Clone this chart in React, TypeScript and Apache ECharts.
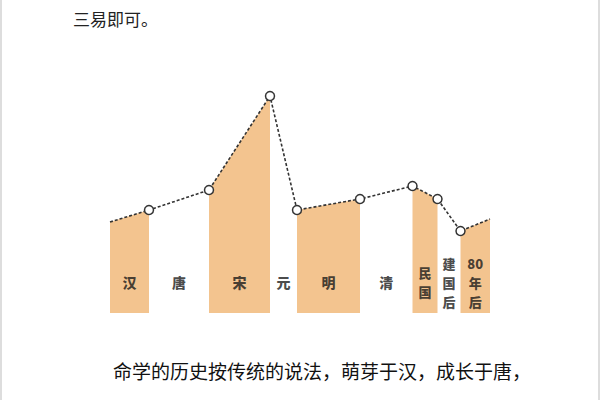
import React, { useEffect, useRef } from "react";
import * as echarts from "echarts";

// Era boundaries (x) and trend values (y) along the dashed line
const boundaryX = [0, 39, 99, 160, 187, 250, 302.5, 327.5, 350.5, 380];
const trendValues = [91, 103, 123, 217, 103, 114, 127, 114, 82, 94];
// Era names, one per segment between boundaries
const eras = ["汉", "唐", "宋", "元", "明", "清", "民国", "建国后", "80年后"];
// Which eras are drawn as filled blocks
const filledEras = [true, false, true, false, true, false, true, false, true];
const labelLines = ["汉", "唐", "宋", "元", "明", "清", "民\n国", "建\n国\n后", "80\n年\n后"];

const topText = "三易即可。";
const bodyText = "命学的历史按传统的说法，萌芽于汉，成长于唐，";

export default function App() {
  const ref = useRef<HTMLDivElement>(null);
  useEffect(() => {
    if (!ref.current) return;
    const chart = echarts.init(ref.current, null, { renderer: "svg" });
    const lineData = boundaryX.map((x, i) => ({
      value: [x, trendValues[i]],
      symbol: i === 0 || i === boundaryX.length - 1 ? "none" : "circle",
    }));
    const areaSeries: any[] = [];
    eras.forEach((e, i) => {
      if (!filledEras[i]) return;
      areaSeries.push({
        type: "line",
        data: [
          [boundaryX[i], trendValues[i]],
          [boundaryX[i + 1], trendValues[i + 1]],
        ],
        symbol: "none",
        lineStyle: { width: 0 },
        areaStyle: { color: "#F3C48F", opacity: 1, origin: "start" },
        silent: true,
        z: 1,
      });
    });
    const labelData = eras.map((e, i) => {
      const vertical = labelLines[i].includes("\n");
      return {
        name: e,
        value: [(boundaryX[i] + boundaryX[i + 1]) / 2, 31],
        label: {
          formatter: labelLines[i],
          fontSize: vertical ? 13 : 14,
          lineHeight: vertical ? 19 : 16,
        },
      };
    });
    chart.setOption({
      animation: false,
      backgroundColor: "#ffffff",
      grid: { left: 110, top: 0, width: 380, height: 313 },
      xAxis: { type: "value", min: 0, max: 380, show: false },
      yAxis: { type: "value", min: 0, max: 313, show: false },
      series: [
        ...areaSeries,
        {
          type: "line",
          data: lineData,
          symbolSize: 9,
          itemStyle: { color: "#ffffff", borderColor: "#333333", borderWidth: 1.5 },
          lineStyle: { color: "#333333", width: 1.6, type: [3, 2] },
          z: 3,
        },
        {
          type: "scatter",
          data: labelData,
          symbolSize: 0,
          z: 4,
          label: {
            show: true,
            position: "inside",
            color: "#1a1a1a",
            fontWeight: 900,
            fontFamily: "Noto Sans CJK SC",
          },
        },
      ],
      graphic: [
        {
          type: "text",
          left: 73,
          top: 10,
          style: { text: topText, fontSize: 17, fill: "#222", fontFamily: "Noto Sans CJK SC" },
        },
        {
          type: "text",
          left: 113,
          top: 361,
          style: { text: bodyText, fontSize: 19, fill: "#111", fontFamily: "Noto Sans CJK SC" },
        },
        { type: "line", shape: { x1: 1, y1: 0, x2: 1, y2: 400 }, style: { stroke: "#dddddd", lineWidth: 2 } },
        { type: "line", shape: { x1: 599, y1: 0, x2: 599, y2: 400 }, style: { stroke: "#dddddd", lineWidth: 2 } },
      ],
    });
    return () => chart.dispose();
  }, []);
  return (
    <div
      ref={ref}
      style={{ position: "fixed", left: 0, top: 0, width: 600, height: 400 }}
    />
  );
}
